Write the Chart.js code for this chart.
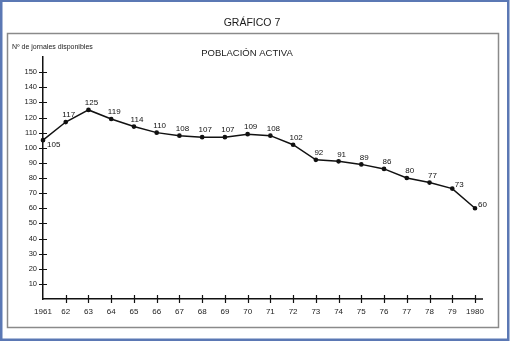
<!DOCTYPE html>
<html>
<head>
<meta charset="utf-8">
<script src="https://cdn.jsdelivr.net/npm/chart.js@4"></script>
<style>
  html, body { margin: 0; padding: 0; background: #fff; }
  canvas { display: block; }
</style>
</head>
<body>
<canvas id="chart" width="510" height="341"></canvas>
<script>
const years = ['1961', '62', '63', '64', '65', '66', '67', '68', '69', '70',
  '71', '72', '73', '74', '75', '76', '77', '78', '79', '1980'];
const jornales = [105, 117, 125, 119, 114, 110, 108, 107, 107, 109,
  108, 102, 92, 91, 89, 86, 80, 77, 73, 60];
const yMin = 0;
const yMax = 160;
const yStep = 10;

const FONT = '"Liberation Sans", Arial, sans-serif';

// label nudges for the few points that are not written above-right
const labelShift = {
  0: { dx: 4, dy: 5, align: 'left' },
  18: { dx: 7, dy: -4, align: 'center' },
  19: { dx: 3, dy: -3, align: 'left' },
};

const frame = {
  id: 'frame',
  beforeDraw(chart) {
    const c = chart.ctx;
    c.save();
    c.fillStyle = '#fff';
    c.fillRect(0, 0, chart.width, chart.height);
    // blue outer border
    c.strokeStyle = '#5b78b4';
    c.lineWidth = 2.5;
    c.strokeRect(1.25, 0.75, 507, 339);
    // grey inner box
    c.strokeStyle = '#8a8a8a';
    c.lineWidth = 1.5;
    c.strokeRect(7.5, 33.5, 491, 294);
    // texts
    c.fillStyle = '#1a1a1a';
    c.textBaseline = 'middle';
    c.textAlign = 'center';
    c.font = '10.5px ' + FONT;
    c.fillText('GRÁFICO 7', 252, 23);
    c.font = '9.5px ' + FONT;
    c.fillText('POBLACIÓN ACTIVA', 247, 53);
    c.textAlign = 'left';
    c.font = '7px ' + FONT;
    c.fillText('Nº de jornales disponibles', 12, 47);
    c.restore();
  },
  afterDraw(chart) {
    const c = chart.ctx;
    const xs = chart.scales.x;
    const ys = chart.scales.y;
    c.save();
    c.strokeStyle = '#111';
    c.lineWidth = 1.5;
    // axis runs a little past the last year
    c.beginPath();
    c.moveTo(xs.right, ys.bottom);
    c.lineTo(xs.right + 8, ys.bottom);
    c.stroke();

    c.lineWidth = 1.2;
    c.beginPath();
    ys.ticks.forEach((t, i) => {
      if (t.value === yMin || t.value === yMax) return;
      const y = Math.round(ys.getPixelForTick(i)) + 0.5;
      c.moveTo(xs.left - 4, y);
      c.lineTo(xs.left + 4, y);
    });
    xs.ticks.forEach((t, i) => {
      if (i === 0) return;
      const x = Math.round(xs.getPixelForTick(i)) + 0.5;
      c.moveTo(x, ys.bottom - 4);
      c.lineTo(x, ys.bottom + 4);
    });
    c.stroke();

    // value labels
    const meta = chart.getDatasetMeta(0);
    c.fillStyle = '#111';
    c.font = '8px ' + FONT;
    c.textBaseline = 'middle';
    meta.data.forEach((pt, i) => {
      const s = labelShift[i] || { dx: 3, dy: -7, align: 'center' };
      c.textAlign = s.align;
      c.fillText(String(jornales[i]), pt.x + s.dx, pt.y + s.dy);
    });
    c.restore();
  }
};

new Chart(document.getElementById('chart'), {
  type: 'line',
  data: {
    labels: years,
    datasets: [{
      data: jornales,
      borderColor: '#111',
      borderWidth: 1.5,
      backgroundColor: '#111',
      pointRadius: 1.6,
      pointHoverRadius: 1.6,
      tension: 0,
    }],
  },
  options: {
    responsive: false,
    animation: false,
    events: [],
    layout: { padding: { left: 0, right: 35, top: 57, bottom: 0 } },
    plugins: {
      legend: { display: false },
      tooltip: { enabled: false },
    },
    scales: {
      x: {
        type: 'category',
        offset: false,
        grid: { display: false, drawTicks: false },
        border: { display: true, color: '#111', width: 1.5 },
        ticks: {
          color: '#222',
          font: { family: FONT, size: 8 },
          padding: 8,
          maxRotation: 0,
          autoSkip: false,
        },
        afterFit(scale) { scale.height = 42; },
      },
      y: {
        min: yMin,
        max: yMax,
        grid: { display: false, drawTicks: false },
        border: { display: true, color: '#111', width: 1.5 },
        ticks: {
          stepSize: yStep,
          color: '#222',
          font: { family: FONT, size: 7.5 },
          padding: 6,
          callback: (v) => (v === yMin || v === yMax ? '' : v),
        },
        afterFit(scale) { scale.width = 43; },
      },
    },
  },
  plugins: [frame],
});
</script>
</body>
</html>
